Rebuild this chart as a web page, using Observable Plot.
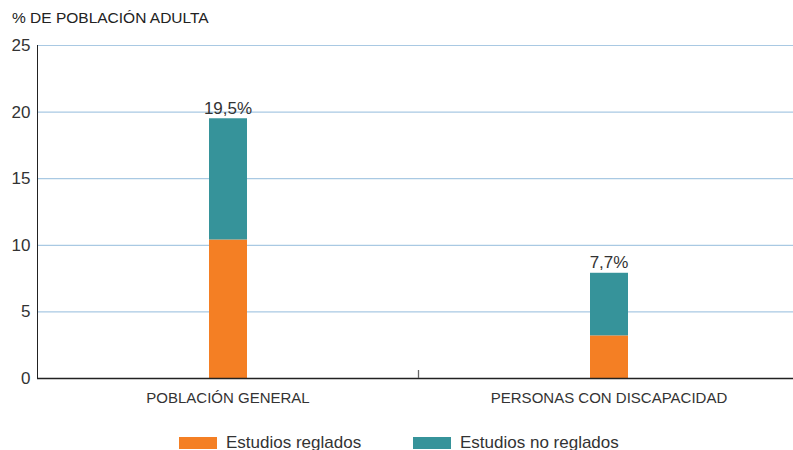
<!DOCTYPE html>
<html>
<head>
<meta charset="utf-8">
<script src="https://cdn.jsdelivr.net/npm/d3@7"></script>
<script src="https://cdn.jsdelivr.net/npm/@observablehq/plot@0.6"></script>
<style>
  body { margin: 0; background: #fff; font-family: "Liberation Sans", Arial, sans-serif; color: #333; }
  #title { height: 30px; box-sizing: border-box; padding: 8px 0 0 12px; font-size: 15.5px; line-height: 20px; color: #222; }
  #legend { height: 30px; box-sizing: border-box; position: relative; font-size: 17px; line-height: 17px; color: #333; }
  .item { position: absolute; top: 14px; display: flex; align-items: center; }
  .sw { width: 38px; height: 12px; margin-right: 9px; }
</style>
</head>
<body>
<div id="title">% DE POBLACIÓN ADULTA</div>
<div id="chart"></div>
<div id="legend"></div>
<script>
const categories = ["POBLACIÓN GENERAL", "PERSONAS CON DISCAPACIDAD"];
const reglados = [10.4, 3.2];
const noReglados = [9.1, 4.7];
const totalLabels = ["19,5%", "7,7%"];
const seriesNames = ["Estudios reglados", "Estudios no reglados"];
const seriesColors = ["#f47f24", "#36939a"];
const yTicks = [0, 5, 10, 15, 20, 25];

const rows = [];
categories.forEach((c, i) => {
  rows.push({cat: c, serie: seriesNames[0], value: reglados[i]});
  rows.push({cat: c, serie: seriesNames[1], value: noReglados[i]});
});
const totals = categories.map((c, i) => ({cat: c, total: reglados[i] + noReglados[i], label: totalLabels[i]}));

const chart = Plot.plot({
  width: 793,
  height: 390,
  marginTop: 15,
  marginBottom: 42,
  marginLeft: 37,
  marginRight: 0,
  style: {fontFamily: "Liberation Sans, Arial, sans-serif", color: "#333", background: "#fff"},
  x: {domain: categories, range: [37, 799], padding: 0},
  y: {domain: [0, 25], ticks: yTicks},
  color: {domain: seriesNames, range: seriesColors},
  marks: [
    Plot.gridY(yTicks.filter(d => d > 0), {stroke: "#a9c9e3", strokeOpacity: 1, strokeWidth: 1.2}),
    Plot.axisY({ticks: yTicks, tickSize: 0, tickPadding: 7, fontSize: 17, fill: "#333", label: null}),
    Plot.axisX({tickSize: 0, tickPadding: 14, fontSize: 15, fill: "#333", label: null}),
    Plot.barY(rows, Plot.stackY({x: "cat", y: "value", fill: "serie", order: seriesNames, insetLeft: 172, insetRight: 171})),
    Plot.text(totals, {x: "cat", y: "total", text: "label", lineAnchor: "bottom", dy: -5, fontSize: 17, fill: "#333"}),
    Plot.frame({anchor: "left", stroke: "#222"}),
    Plot.ruleY([0], {stroke: "#222", strokeWidth: 1.3}),
    Plot.ruleX([categories[0]], {dx: 190.5, y1: 0, y2: 0.6, stroke: "#666", strokeWidth: 1.3})
  ]
});
document.getElementById("chart").appendChild(chart);

const legend = document.getElementById("legend");
const lefts = [179, 413];
seriesNames.forEach((s, i) => {
  const it = document.createElement("div");
  it.className = "item";
  it.style.left = lefts[i] + "px";
  it.innerHTML = `<span class="sw" style="background:${seriesColors[i]}"></span><span>${s}</span>`;
  legend.appendChild(it);
});
</script>
</body>
</html>
